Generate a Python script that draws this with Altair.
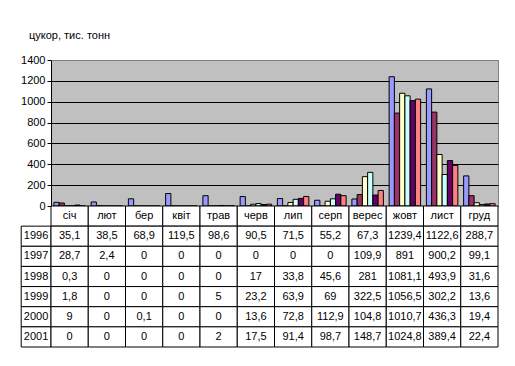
import altair as alt
import pandas as pd

months = ["січ", "лют", "бер", "квіт", "трав", "черв", "лип", "серп", "верес", "жовт", "лист", "груд"]
years = ["1996", "1997", "1998", "1999", "2000", "2001"]
v1996 = [35.1, 38.5, 68.9, 119.5, 98.6, 90.5, 71.5, 55.2, 67.3, 1239.4, 1122.6, 288.7]
v1997 = [28.7, 2.4, 0, 0, 0, 0, 0, 0, 109.9, 891, 900.2, 99.1]
v1998 = [0.3, 0, 0, 0, 0, 17, 33.8, 45.6, 281, 1081.1, 493.9, 31.6]
v1999 = [1.8, 0, 0, 0, 5, 23.2, 63.9, 69, 322.5, 1056.5, 302.2, 13.6]
v2000 = [9, 0, 0.1, 0, 0, 13.6, 72.8, 112.9, 104.8, 1010.7, 436.3, 19.4]
v2001 = [0, 0, 0, 0, 2, 17.5, 91.4, 98.7, 148.7, 1024.8, 389.4, 22.4]
series = [v1996, v1997, v1998, v1999, v2000, v2001]
colors = ["#9999FF", "#993366", "#FFFFCC", "#CCFFFF", "#660066", "#FF8080"]
y_ticks = [0, 200, 400, 600, 800, 1000, 1200, 1400]
title_text = "цукор, тис. тонн"

FONT = "Liberation Sans"


def fmt(v):
    return f"{v:g}".replace(".", ",")


rows = []
for y, vals in zip(years, series):
    for m, v in zip(months, vals):
        rows.append({"month": m, "year": y, "value": v})
bars_df = pd.DataFrame(rows)

cells = []
for i, m in enumerate(months):
    cells.append({"x": i, "x2": i + 1, "r": 0, "r2": 1, "label": m})
for j, (y, vals) in enumerate(zip(years, series)):
    cells.append({"x": -0.8, "x2": 0, "r": j + 1, "r2": j + 2, "label": y})
    for i, v in enumerate(vals):
        cells.append({"x": i, "x2": i + 1, "r": j + 1, "r2": j + 2, "label": fmt(v)})
table_df = pd.DataFrame(cells)

top = alt.Chart(bars_df).mark_bar(stroke="black", strokeWidth=1).encode(
    x=alt.X("month:N", sort=months,
            scale=alt.Scale(domain=months, paddingInner=0, paddingOuter=0),
            axis=None),
    xOffset=alt.XOffset("year:N", sort=years,
                        scale=alt.Scale(domain=years, paddingInner=0, paddingOuter=0.55)),
    y=alt.Y("value:Q", scale=alt.Scale(domain=[0, 1400], nice=False),
            axis=alt.Axis(values=y_ticks, format="d", title=None, grid=True,
                          gridColor=alt.ExprRef(expr="datum.value == 1400 ? '#808080' : 'black'"),
                          gridOpacity=1, domainColor="black", tickColor="black", tickSize=4,
                          labelFontSize=11, labelColor="black", labelFont=FONT, labelPadding=2)),
    color=alt.Color("year:N", scale=alt.Scale(domain=years, range=colors), legend=None),
).properties(
    width=447, height=146,
    view=alt.ViewBackground(fill="#C0C0C0", stroke="#808080"),
    title=alt.TitleParams(title_text, anchor="start", frame="group", dx=-22, offset=13,
                          fontSize=11, fontWeight="normal", font=FONT, color="black"),
)

xs = alt.Scale(domain=[0, 12], nice=False, zero=False)
ys = alt.Scale(domain=[0, 7], nice=False, zero=False, reverse=True)

rect = alt.Chart(table_df).mark_rect(fill="white", stroke="black", strokeWidth=1).encode(
    x=alt.X("x:Q", scale=xs, axis=None), x2="x2:Q",
    y=alt.Y("r:Q", scale=ys, axis=None), y2="r2:Q",
)
text = alt.Chart(table_df).transform_calculate(
    xc="(datum.x + datum.x2) / 2", yc="(datum.r + datum.r2) / 2"
).mark_text(font=FONT, fontSize=11, color="black").encode(
    x=alt.X("xc:Q", scale=xs, axis=None),
    y=alt.Y("yc:Q", scale=ys, axis=None),
    text="label:N",
)
bottom = alt.layer(rect, text).properties(
    width=447, height=141, view=alt.ViewBackground(stroke="transparent")
)

chart = alt.vconcat(top, bottom, spacing=0, bounds="flush").properties(
    padding={"left": 12, "top": 21, "right": 5, "bottom": 5}
)

chart.save("out.html", embed_options={"renderer": "svg", "actions": False})
